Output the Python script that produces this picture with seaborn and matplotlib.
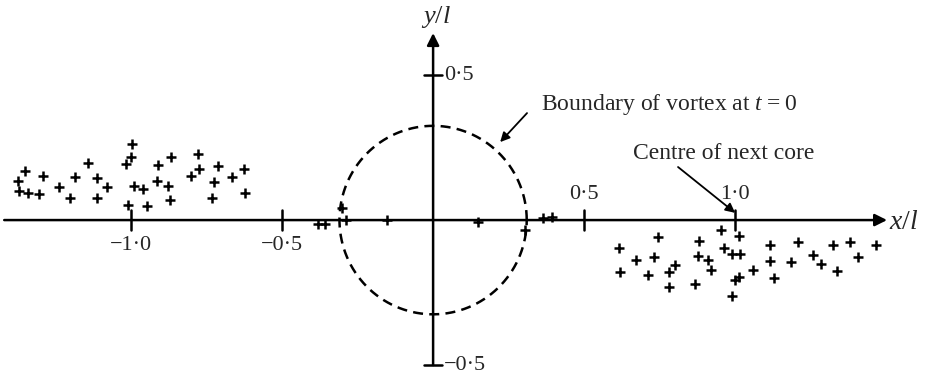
import numpy as np
import pandas as pd
import matplotlib
matplotlib.use("Agg")
import matplotlib.pyplot as plt
import seaborn as sns

# ---- data (x/l, y/l) ----
left_x = [-0.997, -1.000, -1.017, -0.868, -0.778, -1.142, -0.911, -0.775, -0.801, -0.712,
          -0.626, -0.666, -0.990, -0.960, -0.914, -0.877, -0.725, -0.871, -0.732, -0.623,
          -1.010, -0.947, -1.351, -1.291, -1.374, -1.185, -1.113, -1.079, -1.238, -1.371,
          -1.341, -1.305, -1.202, -1.113]
left_y = [0.262, 0.217, 0.193, 0.217, 0.228, 0.197, 0.190, 0.176, 0.152, 0.186,
          0.176, 0.148, 0.117, 0.107, 0.134, 0.117, 0.131, 0.069, 0.076, 0.093,
          0.052, 0.048, 0.169, 0.152, 0.134, 0.148, 0.145, 0.114, 0.114, 0.100,
          0.093, 0.090, 0.076, 0.076]
axis_x = [-0.381, -0.358, -0.301, -0.288, -0.152, 0.149, 0.305, 0.364, 0.394]
axis_y = [-0.014, -0.014, 0.041, 0.000, 0.000, -0.007, -0.034, 0.007, 0.010]
right_x = [0.954, 1.013, 0.745, 0.881, 0.616, 0.964, 0.990, 1.017, 1.116, 1.209,
           1.325, 1.381, 1.467, 0.672, 0.732, 0.877, 0.911, 1.116, 1.185, 1.258,
           1.285, 1.407, 0.619, 0.712, 0.801, 0.781, 0.921, 1.060, 1.000, 1.013,
           1.129, 0.781, 0.868, 1.338, 0.990]
right_y = [-0.034, -0.055, -0.059, -0.072, -0.097, -0.097, -0.117, -0.117, -0.086, -0.076,
           -0.086, -0.076, -0.086, -0.138, -0.128, -0.124, -0.138, -0.141, -0.145, -0.121,
           -0.152, -0.128, -0.179, -0.190, -0.155, -0.179, -0.172, -0.172, -0.207, -0.197,
           -0.200, -0.231, -0.221, -0.176, -0.262]

x_ticks = [-1.0, -0.5, 0.5, 1.0]
x_tick_labels = ["\u22121\u00b70", "\u22120\u00b75", "0\u00b75", "1\u00b70"]
y_ticks = [0.5, -0.5]
y_tick_labels = ["0\u00b75", "\u22120\u00b75"]
vortex_rx, vortex_ry = 0.31, 0.325

df = pd.DataFrame({"x": left_x + axis_x + right_x, "y": left_y + axis_y + right_y})

sns.set_theme(style="white")
plt.rcParams["font.family"] = ["Liberation Serif", "DejaVu Serif"]
plt.rcParams["mathtext.fontset"] = "custom"
plt.rcParams["mathtext.it"] = "Liberation Serif:italic"
plt.rcParams["mathtext.rm"] = "Liberation Serif"

fig = plt.figure(figsize=(9.26, 3.81), dpi=100)
ax = fig.add_axes([0, 0, 1, 1])
ax.set_xlim(-1.434, 1.632)
ax.set_ylim(-0.555, 0.759)
ax.axis("off")

sns.scatterplot(data=df, x="x", y="y", marker="+", s=45, color="black",
                linewidth=1.8, ax=ax, legend=False, zorder=3)

# axes with arrows
ax.annotate("", xy=(1.503, 0), xytext=(-1.42, 0),
            arrowprops=dict(arrowstyle="-|>", lw=1.8, color="black", mutation_scale=18,
                            shrinkA=0, shrinkB=0))
ax.annotate("", xy=(0, 0.645), xytext=(0, -0.5),
            arrowprops=dict(arrowstyle="-|>", lw=1.8, color="black", mutation_scale=18,
                            shrinkA=0, shrinkB=0))
ax.text(1.51, -0.008, "$x/l$", fontsize=20, va="center", ha="left")
ax.text(0.01, 0.70, "$y/l$", fontsize=19, va="center", ha="center")

# ticks
for xt, lab in zip(x_ticks, x_tick_labels):
    ax.plot([xt, xt], [-0.035, 0.035], color="black", lw=1.8)
    if xt < 0:
        ax.text(xt, -0.055, lab, ha="center", va="top", fontsize=16)
    else:
        ax.text(xt, 0.055, lab, ha="center", va="bottom", fontsize=16)
for yt, lab in zip(y_ticks, y_tick_labels):
    ax.plot([-0.03, 0.03], [yt, yt], color="black", lw=1.8)
    ax.text(0.035, yt, lab, ha="left", va="center", fontsize=16)

# vortex boundary
th = np.linspace(0, 2 * np.pi, 400)
ax.plot(vortex_rx * np.cos(th), vortex_ry * np.sin(th), color="black", lw=1.8,
        dashes=(4, 2.5))

# annotations
ax.text(0.358, 0.397, "Boundary of vortex at $t$\u2009=\u20090", fontsize=17,
        ha="left", va="center")
ax.annotate("", xy=(0.222, 0.269), xytext=(0.311, 0.369),
            arrowprops=dict(arrowstyle="-|>", lw=1.3, color="black", mutation_scale=14,
                            shrinkA=0, shrinkB=0))
ax.text(0.662, 0.231, "Centre of next core", fontsize=17, ha="left", va="center")
ax.annotate("", xy=(1.0, 0.025), xytext=(0.811, 0.183),
            arrowprops=dict(arrowstyle="-|>", lw=1.3, color="black", mutation_scale=14,
                            shrinkA=0, shrinkB=0))

fig.savefig("out.png", dpi=100, facecolor="white")
